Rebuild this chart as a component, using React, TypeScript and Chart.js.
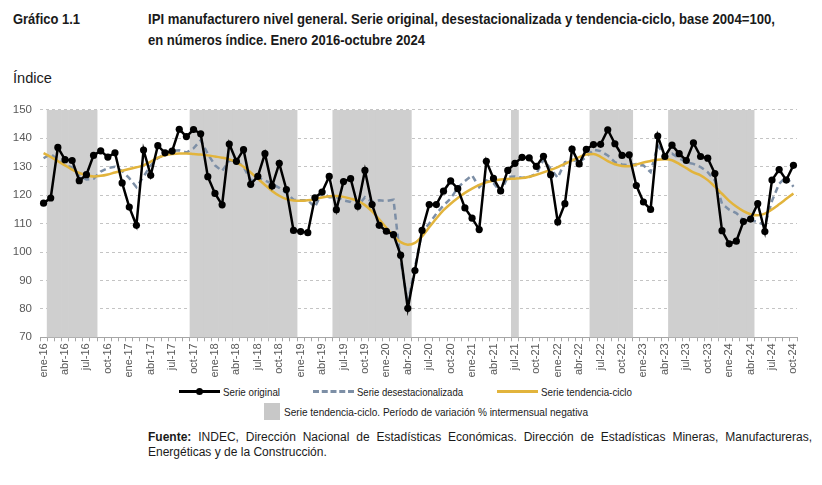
import React, { useEffect, useLayoutEffect, useRef } from 'react';
import { Chart, registerables } from 'chart.js';

Chart.register(...registerables);

const MONTHS = ['ene', 'feb', 'mar', 'abr', 'may', 'jun', 'jul', 'ago', 'sep', 'oct', 'nov', 'dic'];
const YEARS = ['16', '17', '18', '19', '20', '21', '22', '23', '24'];
const categories: string[] = [];
YEARS.forEach((y) => MONTHS.forEach((m, mi) => { if (!(y === '24' && mi > 9)) categories.push(`${m}-${y}`); }));

const yTicks = [70, 80, 90, 100, 110, 120, 130, 140, 150];

// Serie original
const original = [
  117.2, 119.0, 136.8, 132.5, 132.2, 125.1, 127.2, 134.0, 135.6, 133.4, 134.9, 124.3,
  115.8, 109.4, 135.9, 127.0, 137.4, 134.9, 135.5, 143.2, 140.6, 143.1, 141.6, 126.5,
  120.6, 116.6, 138.0, 131.9, 136.0, 123.8, 126.6, 134.6, 123.2, 131.2, 122.0, 107.6,
  107.2, 106.8, 119.1, 121.1, 126.6, 114.9, 124.8, 125.8, 116.1, 128.7, 116.7, 109.4,
  107.3, 106.1, 98.9, 80.2, 93.5, 107.6, 116.7, 116.7, 121.4, 125.0, 122.3, 115.5,
  111.9, 107.9, 131.9, 125.9, 121.5, 128.7, 131.2, 133.3, 133.1, 130.1, 133.7, 127.2,
  110.6, 117.0, 136.2, 131.0, 136.1, 137.8, 137.9, 143.0, 138.1, 134.0, 134.2, 123.4,
  117.6, 115.0, 140.8, 133.6, 137.6, 134.6, 132.2, 138.4, 133.6, 133.0, 127.6, 107.5,
  102.9, 103.8, 110.7, 111.6, 117.0, 107.2, 125.3, 129.0, 125.3, 130.5,
];

// Serie desestacionalizada
const desest = [
  133.0, 134.5, 132.5, 130.5, 129.8, 126.8, 125.5, 125.8, 128.3, 129.5, 130.0, 128.5,
  126.0, 122.8, 126.5, 130.5, 133.0, 134.5, 135.5, 135.8, 135.0, 136.5, 139.3, 134.5,
  130.5, 128.5, 132.2, 132.0, 130.0, 125.2, 126.1, 125.2, 124.0, 122.6, 120.7, 118.4,
  118.2, 118.2, 115.8, 121.1, 119.3, 119.3, 118.2, 117.6, 116.1, 119.3, 117.6, 118.2,
  118.0, 118.4, 97.0, 82.0, 94.5, 107.1, 110.0, 113.5, 116.4, 118.8, 122.6, 125.0,
  127.0, 122.8, 125.2, 124.2, 121.1, 126.4, 126.6, 126.1, 126.4, 127.5, 132.5, 129.3,
  126.1, 131.6, 132.5, 131.6, 133.4, 136.0, 135.5, 134.0, 131.6, 130.8, 130.5, 131.0,
  130.5, 128.1, 137.5, 134.0, 134.6, 133.0, 131.6, 131.0, 129.9, 128.1, 125.2, 117.0,
  114.9, 113.7, 111.2, 111.2, 110.6, 109.4, 118.0, 124.0, 126.5, 123.0,
];

// Serie tendencia-ciclo
const trend = [
  134.8, 133.5, 132.0, 130.5, 129.0, 127.8, 127.0, 126.6, 126.8, 127.3, 128.0, 128.6,
  129.2, 129.8, 130.5, 131.8, 133.2, 134.0, 134.5, 134.7, 134.7, 134.5, 134.3, 134.0,
  133.6, 133.2, 132.6, 131.5, 130.0, 128.0, 125.8, 123.6, 121.5, 119.8, 118.6, 118.1,
  118.0, 118.2, 118.6, 119.2, 119.6, 119.7, 119.4, 118.8, 118.0, 116.5, 114.3, 111.5,
  108.5, 105.6, 103.5, 102.6, 103.2, 105.5, 108.7, 111.8, 114.7, 117.0, 119.0, 120.8,
  122.3, 123.6, 124.5, 125.1, 125.5, 125.7, 125.8, 126.0, 126.5, 127.2, 128.0, 128.9,
  129.9, 131.0, 132.2, 133.4, 134.3, 134.5, 133.5, 132.0, 130.9, 130.3, 130.2, 130.8,
  131.5, 132.0, 132.5, 132.6, 132.3, 131.0, 129.5, 128.0, 127.0, 125.3, 123.0, 120.5,
  118.0, 116.0, 114.4, 113.3, 112.9, 113.5, 115.0, 116.8, 118.7, 120.6,
];

// Períodos de variación % intermensual negativa de la serie tendencia-ciclo
const negativePeriods: [string, string][] = [
  ['feb-16', 'ago-16'],
  ['oct-17', 'dic-18'],
  ['jun-19', 'abr-20'],
  ['jul-21', 'jul-21'],
  ['jun-22', 'nov-22'],
  ['may-23', 'abr-24'],
];

const GOLD = '#e2b43c';
const SLATE = '#7d8fa6';
const SHADE = '#cfcfcf';
const ARIAL = '"Liberation Sans", Arial, sans-serif';
const LEG = '"Liberation Sans", Arial, sans-serif';

function buildShade(): (number | null)[] {
  const out: (number | null)[] = categories.map(() => null);
  negativePeriods.forEach(([a, b]) => {
    const s = categories.indexOf(a);
    const e = categories.indexOf(b);
    for (let i = s; i <= e; i++) out[i] = yTicks[yTicks.length - 1];
  });
  return out;
}

function FitText(props: { left: number; top: number; width: number; font: string; lineHeight: number; children: React.ReactNode; color?: string }) {
  const ref = useRef<HTMLSpanElement | null>(null);
  useLayoutEffect(() => {
    const el = ref.current;
    if (!el) return;
    el.style.transform = 'none';
    const w = el.getBoundingClientRect().width;
    if (w > 0) el.style.transform = `scaleX(${props.width / w})`;
  });
  return (
    <span
      ref={ref}
      style={{
        position: 'absolute', left: props.left, top: props.top, font: props.font, lineHeight: `${props.lineHeight}px`,
        whiteSpace: 'nowrap', transformOrigin: '0 0', display: 'inline-block', color: props.color || '#1a1a1a',
      }}
    >
      {props.children}
    </span>
  );
}

export default function App() {
  const ref = useRef<HTMLCanvasElement | null>(null);

  useEffect(() => {
    if (!ref.current) return;
    const chart = new Chart(ref.current, {
      type: 'line',
      data: {
        labels: categories,
        datasets: [
          {
            type: 'line',
            label: 'Serie original',
            data: original,
            borderColor: '#000000',
            backgroundColor: '#000000',
            borderWidth: 2.5,
            pointRadius: 3.6,
            pointBackgroundColor: '#000000',
            pointBorderWidth: 0,
            tension: 0,
            order: 1,
          },
          {
            type: 'line',
            label: 'Serie tendencia-ciclo',
            data: trend,
            borderColor: GOLD,
            borderWidth: 2.5,
            pointRadius: 0,
            cubicInterpolationMode: 'monotone',
            order: 2,
          },
          {
            type: 'line',
            label: 'Serie desestacionalizada',
            data: desest,
            borderColor: SLATE,
            borderWidth: 2.5,
            borderDash: [6, 4],
            pointRadius: 0,
            tension: 0,
            order: 3,
          },
          {
            type: 'bar',
            label: 'Período de variación negativa',
            data: buildShade(),
            backgroundColor: SHADE,
            borderWidth: 0,
            barPercentage: 1,
            categoryPercentage: 1,
            order: 10,
          },
        ],
      } as any,
      options: {
        animation: false,
        responsive: false,
        devicePixelRatio: 1,
        layout: { padding: { top: 3.3, right: 25, left: 0, bottom: 0 } },
        plugins: { legend: { display: false }, tooltip: { enabled: false } },
        scales: {
          x: {
            type: 'category',
            offset: true,
            grid: { display: true, drawOnChartArea: false, drawTicks: true, tickLength: 4, color: '#a6a6a6', offset: true },
            border: { display: true, color: '#a6a6a6' },
            ticks: {
              autoSkip: false,
              maxRotation: 90,
              minRotation: 90,
              padding: 2,
              color: '#595959',
              font: { family: ARIAL, size: 11 },
              callback: (_v: any, i: number) => (i % 3 === 0 ? categories[i] : ''),
            },
            afterFit: (s: any) => { s.height = 42.7; },
          },
          y: {
            min: yTicks[0],
            max: yTicks[yTicks.length - 1],
            ticks: { stepSize: 10, color: '#595959', padding: 8, font: { family: ARIAL, size: 11.5 } },
            grid: { color: '#c4c4c4', drawTicks: false },
            border: { display: false, dash: [3, 3] },
            afterFit: (s: any) => { s.width = 40; },
          },
        },
      } as any,
    });
    return () => chart.destroy();
  }, []);

  const lineSample = (left: number, style: React.CSSProperties) => (
    <div style={{ position: 'absolute', left, top: 390, width: 41, height: 0, ...style }} />
  );
  const legFont = `11px ${LEG}`;
  const titleFont = `bold 15px ${ARIAL}`;
  const narrowFont = `14px ${ARIAL}`;

  return (
    <div style={{ position: 'absolute', left: 0, top: 0, width: 822, height: 485, background: '#ffffff', overflow: 'hidden' }}>
      <FitText left={13} top={8} width={67} font={titleFont} lineHeight={21}>Gráfico 1.1</FitText>
      <FitText left={148} top={8} width={627} font={titleFont} lineHeight={21}>
        IPI manufacturero nivel general. Serie original, desestacionalizada y tendencia-ciclo, base 2004=100,
      </FitText>
      <FitText left={148} top={29} width={277} font={titleFont} lineHeight={21}>en números índice. Enero 2016-octubre 2024</FitText>
      <FitText left={13} top={70} width={39} font={narrowFont} lineHeight={16}>Índice</FitText>

      <canvas ref={ref} width={822} height={285} style={{ position: 'absolute', left: 0, top: 95, width: 822, height: 285 }} />

      {lineSample(179, { borderTop: '3px solid #000' })}
      <div style={{ position: 'absolute', left: 196, top: 388, width: 7, height: 7, borderRadius: '50%', background: '#000' }} />
      <FitText left={223} top={384.5} width={57} font={legFont} lineHeight={14}>Serie original</FitText>
      {lineSample(313, { borderTop: `3px dashed ${SLATE}` })}
      <FitText left={357} top={384.5} width={106} font={legFont} lineHeight={14}>Serie desestacionalizada</FitText>
      {lineSample(497, { borderTop: `3px solid ${GOLD}` })}
      <FitText left={541} top={384.5} width={91} font={legFont} lineHeight={14}>Serie tendencia-ciclo</FitText>
      <div style={{ position: 'absolute', left: 264, top: 403, width: 16, height: 17, background: '#c8c8c8' }} />
      <FitText left={284} top={404.5} width={304} font={legFont} lineHeight={14}>
        Serie tendencia-ciclo. Período de variación % intermensual negativa
      </FitText>

      <div style={{ position: 'absolute', left: 148, top: 430, width: 664, font: `12px ${ARIAL}`, lineHeight: '15px', color: '#1a1a1a' }}>
        <div style={{ textAlign: 'justify', textAlignLast: 'justify', whiteSpace: 'nowrap' as any }}>
          <b>Fuente:</b> INDEC, Dirección Nacional de Estadísticas Económicas. Dirección de Estadísticas Mineras, Manufactureras,
        </div>
        <div>Energéticas y de la Construcción.</div>
      </div>
    </div>
  );
}
